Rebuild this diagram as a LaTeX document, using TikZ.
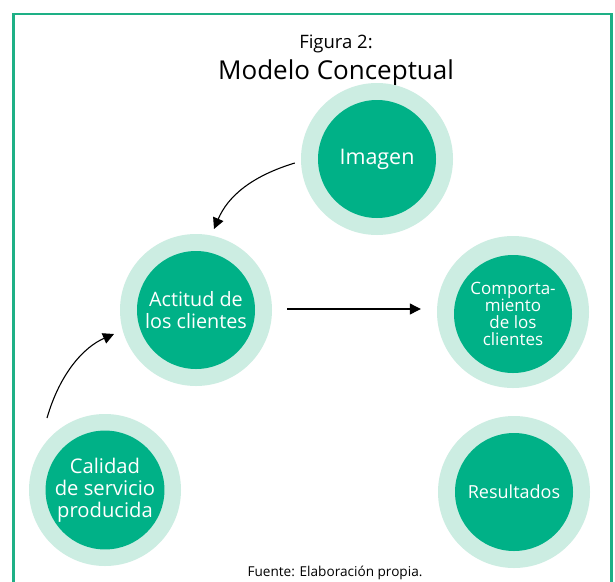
\documentclass[tikz,border=0pt]{standalone}
\usepackage{fontspec}
\setmainfont{Open Sans}
\usetikzlibrary{arrows.meta}
\definecolor{framegreen}{RGB}{30,176,134}
\definecolor{innergreen}{RGB}{0,177,135}
\definecolor{ringgreen}{RGB}{204,237,226}
\begin{document}
\begin{tikzpicture}[x=1pt,y=-1pt,
  ring/.style={circle,fill=ringgreen,minimum size=152pt,inner sep=0pt},
  core/.style={circle,fill=innergreen,minimum size=118pt,inner sep=0pt,
    text=white,align=center},
  arr/.style={-{Triangle[length=11pt,width=11pt]},line width=1.1pt,black}]
\useasboundingbox (0,0) rectangle (615,581);
\fill[white] (0,0) rectangle (615,581);
% outer frame (open at the bottom)
\draw[framegreen,line width=2.4pt] (13.5,600) -- (13.5,14) -- (611.5,14) -- (611.5,600);

% titles
\node (fig) at (336,44) {\fontsize{18.5}{20}\selectfont Figura 2:};
\node (ttl) at (336,73) {\fontsize{26}{30}\selectfont Modelo Conceptual};

% circles
\node[ring] (imgR) at (377,159) {};
\node[core,font=\fontsize{21.5}{22}\selectfont] (img) at (377,159) {Imagen};

\node[ring] (actR) at (196,310) {};
\node[core,font=\fontsize{19.8}{22}\selectfont] (act) at (196,310) {Actitud de\\los clientes};

\node[ring] (comR) at (513,312) {};
\node[core,font=\fontsize{17}{17}\selectfont] (com) at (513,314) {Comporta-\\miento\\de los\\clientes};

\node[ring] (calR) at (105,490) {};
\node[core,font=\fontsize{20.2}{22}\selectfont] (cal) at (105,490) {Calidad\\de servicio\\producida};

\node[ring] (resR) at (514,492) {};
\node[core,font=\fontsize{18}{20}\selectfont] (res) at (514,492) {Resultados};

% connectors
\draw[arr] ([shift={(-6,4)}]imgR.west) .. controls (252,176) and (228,196) .. ([shift={(18,-81)}]actR.center);
\draw[arr] ([shift={(-58,-72)}]calR.center) .. controls (60,373) and (84,347) .. ([shift={(-82,24)}]actR.center);
\draw[arr] ([shift={(15,-1)}]actR.east) -- ([shift={(-16,-3)}]comR.west);

% source note
\node (src) at (335,573) {\fontsize{13.6}{14}\selectfont Fuente: Elaboración propia.};
\end{tikzpicture}
\end{document}
